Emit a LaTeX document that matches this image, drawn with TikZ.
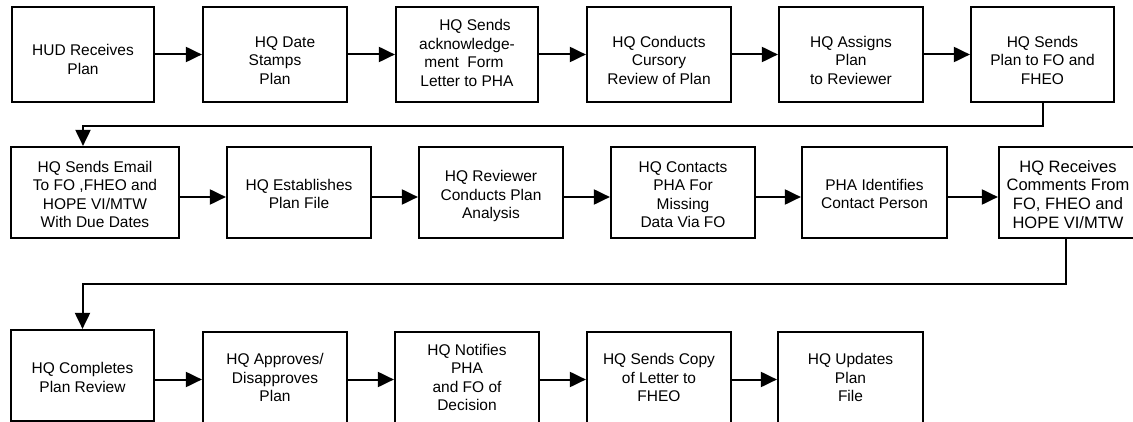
\documentclass[tikz,border=0pt]{standalone}
\usepackage{fontspec}
\setmainfont{Liberation Sans}
\usetikzlibrary{arrows.meta}
\newcommand{\bt}[2][0pt]{\raisebox{#1}[\height][\depth]{\begin{tabular}{@{}c@{}}#2\end{tabular}}}
\tikzset{
  box/.style={draw=black, line width=2.2pt, fill=white, inner sep=0pt,
    font=\fontsize{15.5}{18.5}\selectfont},
  arr/.style={line width=2pt, -{Triangle[length=16pt,width=15pt]}},
  ln/.style={line width=2pt}
}
\begin{document}
\begin{tikzpicture}[x=1pt,y=-1pt]
\useasboundingbox (0,0) rectangle (1133,422);
\clip (0,0) rectangle (1133,422);
% row 1
\tikzset{r1/.style={box, minimum height=95pt}}
\node[r1, minimum width=142pt] (r1a) at (83,54.5) {\bt[-7pt]{HUD Receives\\Plan}};
\node[r1, minimum width=144pt] (r1b) at (275,54.5) {\bt[-7.5pt]{\hspace*{20pt}HQ Date\\Stamps\\Plan}};
\node[r1, minimum width=142pt] (r1c) at (467,54.5) {\bt[-0.5pt]{\hspace*{16pt}HQ Sends\\acknowledge-\\ment\ \ Form\hspace*{6pt}\\Letter to PHA}};
\node[r1, minimum width=144pt] (r1d) at (659,54.5) {\bt[-7.5pt]{HQ Conducts\\Cursory\\Review of Plan}};
\node[r1, minimum width=144pt] (r1e) at (851,54.5) {\bt[-7.5pt]{HQ Assigns\\Plan\\to Reviewer}};
\node[r1, minimum width=143pt] (r1f) at (1042.5,54.5) {\bt[-7.5pt]{HQ Sends\\Plan to FO and\\FHEO}};
% row 2
\tikzset{r2/.style={box, minimum height=91pt}}
\node[r2, minimum width=168pt] (r2a) at (95,192.5) {\bt[-4pt]{HQ Sends Email\\To FO ,FHEO and\\HOPE VI/MTW\\With Due Dates}};
\node[r2, minimum width=144pt] (r2b) at (299,192.5) {\bt[-3.5pt]{HQ Establishes\\Plan File}};
\node[r2, minimum width=144pt] (r2c) at (491,192.5) {\bt[-4pt]{HQ Reviewer\\Conducts Plan\\Analysis}};
\node[r2, minimum width=144pt] (r2d) at (683,192.5) {\bt[-4pt]{HQ Contacts\\PHA For\\Missing\\Data Via FO}};
\node[r2, minimum width=145pt] (r2e) at (874.5,192.5) {\bt[-3.5pt]{PHA Identifies\\Contact Person}};
\node[r2, minimum width=146pt, font=\fontsize{16.5}{18.8}\selectfont] (r2f) at (1072,192.5) {\bt[-4pt]{HQ Receives\\Comments From\\FO, FHEO and\\HOPE VI/MTW}\hspace*{8pt}};
% row 3
\node[box, minimum width=143pt, minimum height=91pt] (r3a) at (82.5,375.5) {\bt[-4pt]{HQ Completes\\Plan Review}};
\tikzset{r3/.style={box, minimum height=95pt, minimum width=144pt}}
\node[r3] (r3b) at (275,379.5) {\bt{HQ Approves/\\Disapproves\\Plan}};
\node[r3] (r3c) at (467,379.5) {\bt{HQ Notifies\\PHA\\and FO of\\Decision}};
\node[r3] (r3d) at (659,379.5) {\bt{HQ Sends Copy\\of Letter to\\FHEO}};
\node[r3, minimum width=145pt] (r3e) at (850.5,379.5) {\bt{HQ Updates\\Plan\\File}};
% row 1 connectors
\draw[arr] (r1a) -- (r1b);
\draw[arr] (r1b) -- (r1c);
\draw[arr] (r1c) -- (r1d);
\draw[arr] (r1d) -- (r1e);
\draw[arr] (r1e) -- (r1f);
\coordinate (t1) at (83,126);
\draw[arr] (r1f.south) |- (t1) -- (t1 |- r2a.north);
% row 2 connectors
\draw[arr] ([yshift=-4.5pt]r2a.east) -- ([yshift=-4.5pt]r2b.west);
\draw[arr] ([yshift=-4.5pt]r2b.east) -- ([yshift=-4.5pt]r2c.west);
\draw[arr] ([yshift=-4.5pt]r2c.east) -- ([yshift=-4.5pt]r2d.west);
\draw[arr] ([yshift=-4.5pt]r2d.east) -- ([yshift=-4.5pt]r2e.west);
\draw[arr] ([yshift=-4.5pt]r2e.east) -- ([yshift=-4.5pt]r2f.west);
\coordinate (s2) at (1066,238);
\coordinate (t2) at (1066,284);
\draw[arr] (s2) -- (t2) -| (r3a.north);
% row 3 connectors
\draw[arr] (r3b.west -| r3a.east) -- (r3b.west);
\draw[arr] (r3b) -- (r3c);
\draw[arr] (r3c) -- (r3d);
\draw[arr] (r3d) -- (r3e);
\end{tikzpicture}
\end{document}
